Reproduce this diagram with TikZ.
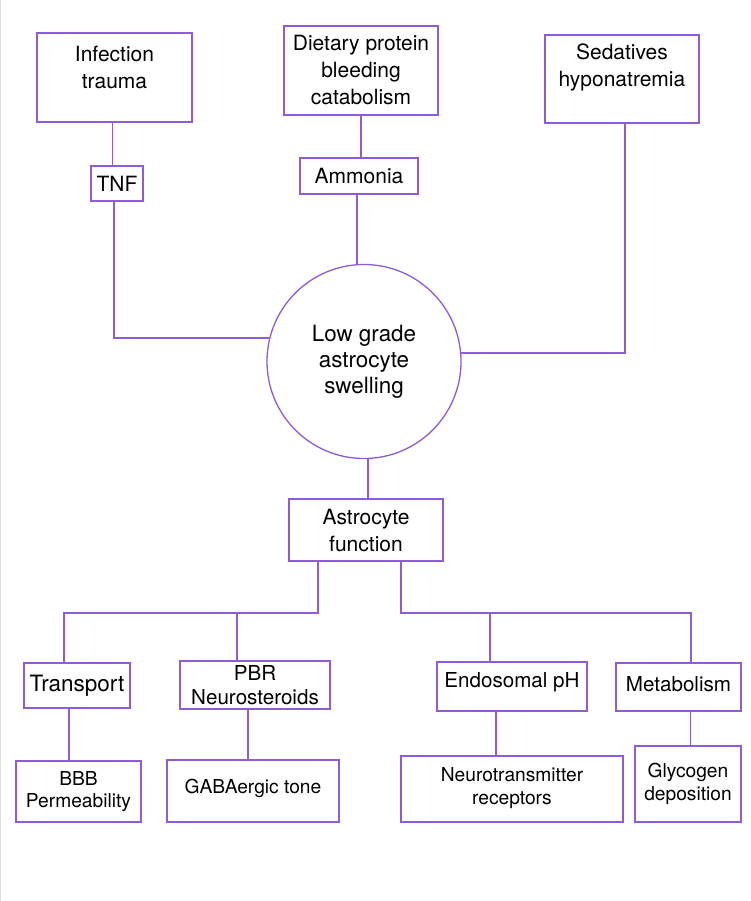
\documentclass[tikz,border=0pt]{standalone}
\usepackage{fontspec}
\setmainfont{TeX Gyre Heros}
\usetikzlibrary{positioning,calc}
\definecolor{vio}{RGB}{142,92,214}

\begin{document}
\begin{tikzpicture}[x=1pt,y=-1pt,
  every node/.style={draw=vio,line width=1.3pt,inner sep=0pt,align=center},
  topbox/.style={rectangle,font=\fontsize{21}{27}\selectfont},
  midbox/.style={rectangle,font=\fontsize{20.6}{24}\selectfont},
  lowbox/.style={rectangle,font=\fontsize{19.2}{22.5}\selectfont},
  link/.style={draw=vio,line width=1.3pt}]
  \path[use as bounding box,fill=white] (0,0) rectangle (750,901);
  \draw[gray!25,line width=1pt] (0.5,0) -- (0.5,901);

  % causes
  \node[topbox,minimum width=155,minimum height=89,text depth=20pt] (inf) at (114.5,77.5) {Infection\\trauma};
  \node[topbox,minimum width=154,minimum height=89] (diet) at (361,70.5) {Dietary protein\\bleeding\\catabolism};
  \node[topbox,minimum width=154,minimum height=88,text depth=28pt] (sed) at (622,79) {Sedatives\\hyponatremia};
  \node[topbox,minimum width=52,minimum height=35] (tnf) at (117,183.5) {TNF};
  \node[topbox,minimum width=118,minimum height=36] (amm) at (359,176) {Ammonia};

  \node[circle,minimum size=194,font=\fontsize{22.4}{26}\selectfont] (swell) at (364,361.5) {Low grade\\astrocyte\\swelling};
  \node[topbox,minimum width=154,minimum height=62] (astro) at (366,530) {Astrocyte\\function};

  % functions
  \node[midbox,minimum width=106,minimum height=45,font=\fontsize{22.5}{24}\selectfont] (trans) at (77,685.5) {Transport};
  \node[midbox,minimum width=150,minimum height=48] (pbr) at (255,685) {PBR\\Neurosteroids};
  \node[midbox,minimum width=150,minimum height=49,text depth=14pt] (endo) at (512,686.5) {Endosomal pH};
  \node[midbox,minimum width=125,minimum height=48,text depth=7pt] (meta) at (678.5,687) {Metabolism};

  \node[lowbox,minimum width=125,minimum height=61] (bbb) at (78.5,791.5) {BBB\\Permeability};
  \node[lowbox,minimum width=172,minimum height=62,text depth=10pt] (gaba) at (253,791) {GABAergic tone};
  \node[lowbox,minimum width=222,minimum height=66,text depth=6pt] (neuro) at (512,789) {Neurotransmitter\\receptors};
  \node[lowbox,minimum width=106,minimum height=76] (glyc) at (688,784) {Glycogen\\deposition};

  \coordinate (hl) at (318,613);
  \coordinate (tl) at (64,613);
  \coordinate (pl) at (237,613);
  \coordinate (hr) at (401,613);
  \coordinate (el) at (490,613);
  \coordinate (ml) at (691,613);

  \draw[link] ([xshift=-2]inf.south) -- ([xshift=-2]inf.south |- tnf.north);
  \draw[link] ([xshift=-3]tnf.south) |- (swell.166);
  \draw[link] (diet.south) -- (diet.south |- amm.north);
  \draw[link] ([xshift=-2]amm.south) -- ([xshift=-2]amm.south |- swell.north);
  \draw[link] ([xshift=3]sed.south) |- (swell.5);
  \draw[link] ([xshift=4]swell.south) -- ([xshift=4]swell.south |- astro.north);

  \draw[link] (astro.south -| hl) -- (hl) -- (tl) -- (tl |- trans.north);
  \draw[link] (pl) -- (pl |- pbr.north);
  \draw[link] (astro.south -| hr) -- (hr) -- (ml) -- (ml |- meta.north);
  \draw[link] (el) -- (el |- endo.north);

  \foreach \a/\b/\d in {trans/bbb/-8,pbr/gaba/-7,endo/neuro/-16,meta/glyc/12} {
    \draw[link] ([xshift=\d]\a.south) -- ([xshift=\d]\a.south |- \b.north);
  }
\end{tikzpicture}
\end{document}
